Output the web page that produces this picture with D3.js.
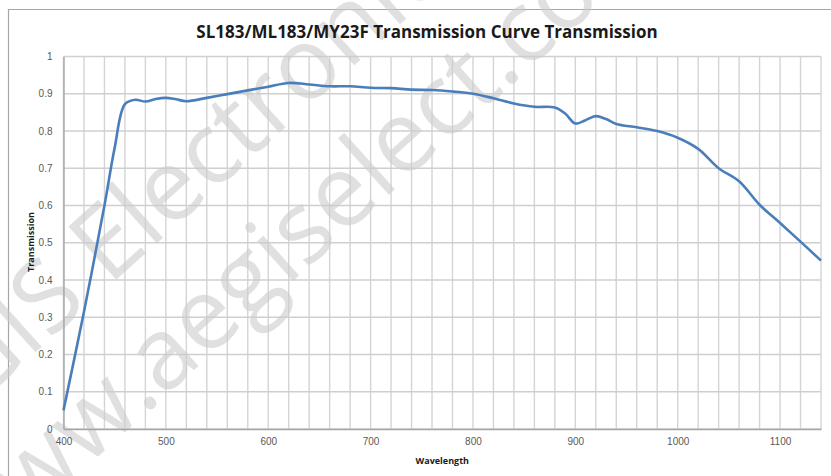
<!DOCTYPE html>
<html>
<head>
<meta charset="utf-8">
<script src="https://cdn.jsdelivr.net/npm/d3@7"></script>
<style>
  body { margin: 0; background: #fff; }
  svg { display: block; font-family: "Open Sans", "Noto Sans", sans-serif; }
</style>
</head>
<body>
<svg id="chart" width="831" height="476"></svg>
<script>
var wavelength = [400, 420, 440, 450, 460, 470, 480, 490, 500, 510, 520, 540, 560, 580, 600, 620, 640, 660, 680, 700,
	720, 740, 760, 780, 800, 820, 840, 860, 880, 890, 900, 910, 920, 930, 940, 960, 980, 1000, 1020, 1040,
	1060, 1080, 1100, 1120, 1140];
var transmission = [0.05, 0.315, 0.6, 0.755, 0.872, 0.884, 0.879, 0.886, 0.889, 0.885, 0.88, 0.889, 0.899, 0.909, 0.919, 0.929, 0.925, 0.92, 0.92, 0.916,
	0.915, 0.911, 0.91, 0.906, 0.9, 0.888, 0.874, 0.865, 0.863, 0.847, 0.82, 0.829, 0.84, 0.832, 0.819, 0.81, 0.8, 0.782, 0.752, 0.7,
	0.665, 0.602, 0.553, 0.503, 0.452];
var xTicks = [400, 500, 600, 700, 800, 900, 1000, 1100];
var yTicks = [0, 0.1, 0.2, 0.3, 0.4, 0.5, 0.6, 0.7, 0.8, 0.9, 1];

var svg = d3.select("svg#chart"),
	plotL = 63.5, plotR = 821, plotT = 56.5, plotB = 429;

var x = d3.scaleLinear().domain([400, 1140]).range([plotL, plotR]);
var y = d3.scaleLinear().domain([0, 1]).range([plotB, plotT]);

// chart frame
svg.append("path")
	.attr("d", "M8.5,476 V9.5 H831")
	.attr("fill", "none")
	.attr("stroke", "#a6a6a6")
	.attr("stroke-width", 1.2);

// grid
svg.append("g")
	.attr("class", "vgrid")
	.selectAll("line")
	.data(d3.range(400, 1141, 20))
	.enter().append("line")
	  .attr("x1", function(d) { return x(d); })
	  .attr("x2", function(d) { return x(d); })
	  .attr("y1", plotT)
	  .attr("y2", plotB)
	  .attr("stroke", "#d4d4d4")
	  .attr("stroke-width", 1.4);

svg.append("g")
	.attr("class", "hgrid")
	.selectAll("line")
	.data(yTicks)
	.enter().append("line")
	  .attr("x1", plotL)
	  .attr("x2", plotR)
	  .attr("y1", function(d) { return y(d); })
	  .attr("y2", function(d) { return y(d); })
	  .attr("stroke", "#cfcfcf")
	  .attr("stroke-width", 1.4);

// watermark
var wm = svg.append("g")
	.attr("fill", "#cccccc")
	.attr("fill-opacity", 0.6)
	.attr("font-family", "'Open Sans', sans-serif");
wm.append("text")
	.attr("transform", "translate(-114,487) rotate(-42)")
	.attr("font-size", 100)
	.text("AEGIS Electronic Group");
wm.append("text")
	.attr("transform", "translate(-29,571) rotate(-42)")
	.attr("font-size", 100)
	.text("www.aegiselect.com");

// axes
var xAxis = svg.append("g")
	.attr("transform", "translate(0," + plotB + ")")
	.call(d3.axisBottom(x).tickValues(xTicks).tickSize(0).tickPadding(9).tickFormat(d3.format("d")));
xAxis.select(".domain").attr("stroke", "#a6a6a6").attr("stroke-width", 1.6);
xAxis.selectAll("text").attr("fill", "#595959").attr("font-size", 10);

var yAxis = svg.append("g")
	.attr("transform", "translate(" + plotL + ",0)")
	.call(d3.axisLeft(y).tickValues(yTicks).tickSize(0).tickPadding(11).tickFormat(d3.format("")));
yAxis.select(".domain").attr("stroke", "#a6a6a6").attr("stroke-width", 1.4);
yAxis.selectAll("text").attr("fill", "#595959").attr("font-size", 10);

// curve
var line = d3.line()
	.x(function(d, i) { return x(wavelength[i]); })
	.y(function(d) { return y(d); })
	.curve(d3.curveCatmullRom);

svg.append("path")
	.datum(transmission)
	.attr("d", line)
	.attr("fill", "none")
	.attr("stroke", "#4a7ebb")
	.attr("stroke-width", 2.6);

// titles
svg.append("text")
	.attr("x", 427)
	.attr("y", 38)
	.attr("text-anchor", "middle")
	.attr("font-size", 17)
	.attr("font-weight", "bold")
	.attr("fill", "#1a1a1a")
	.text("SL183/ML183/MY23F Transmission Curve Transmission");

svg.append("text")
	.attr("x", (plotL + plotR) / 2)
	.attr("y", 464)
	.attr("text-anchor", "middle")
	.attr("font-size", 9)
	.attr("font-weight", "bold")
	.attr("fill", "#1a1a1a")
	.text("Wavelength");

svg.append("text")
	.attr("transform", "translate(34,242) rotate(-90)")
	.attr("text-anchor", "middle")
	.attr("font-size", 9)
	.attr("font-weight", "bold")
	.attr("fill", "#1a1a1a")
	.text("Transmission");
</script>
</body>
</html>
